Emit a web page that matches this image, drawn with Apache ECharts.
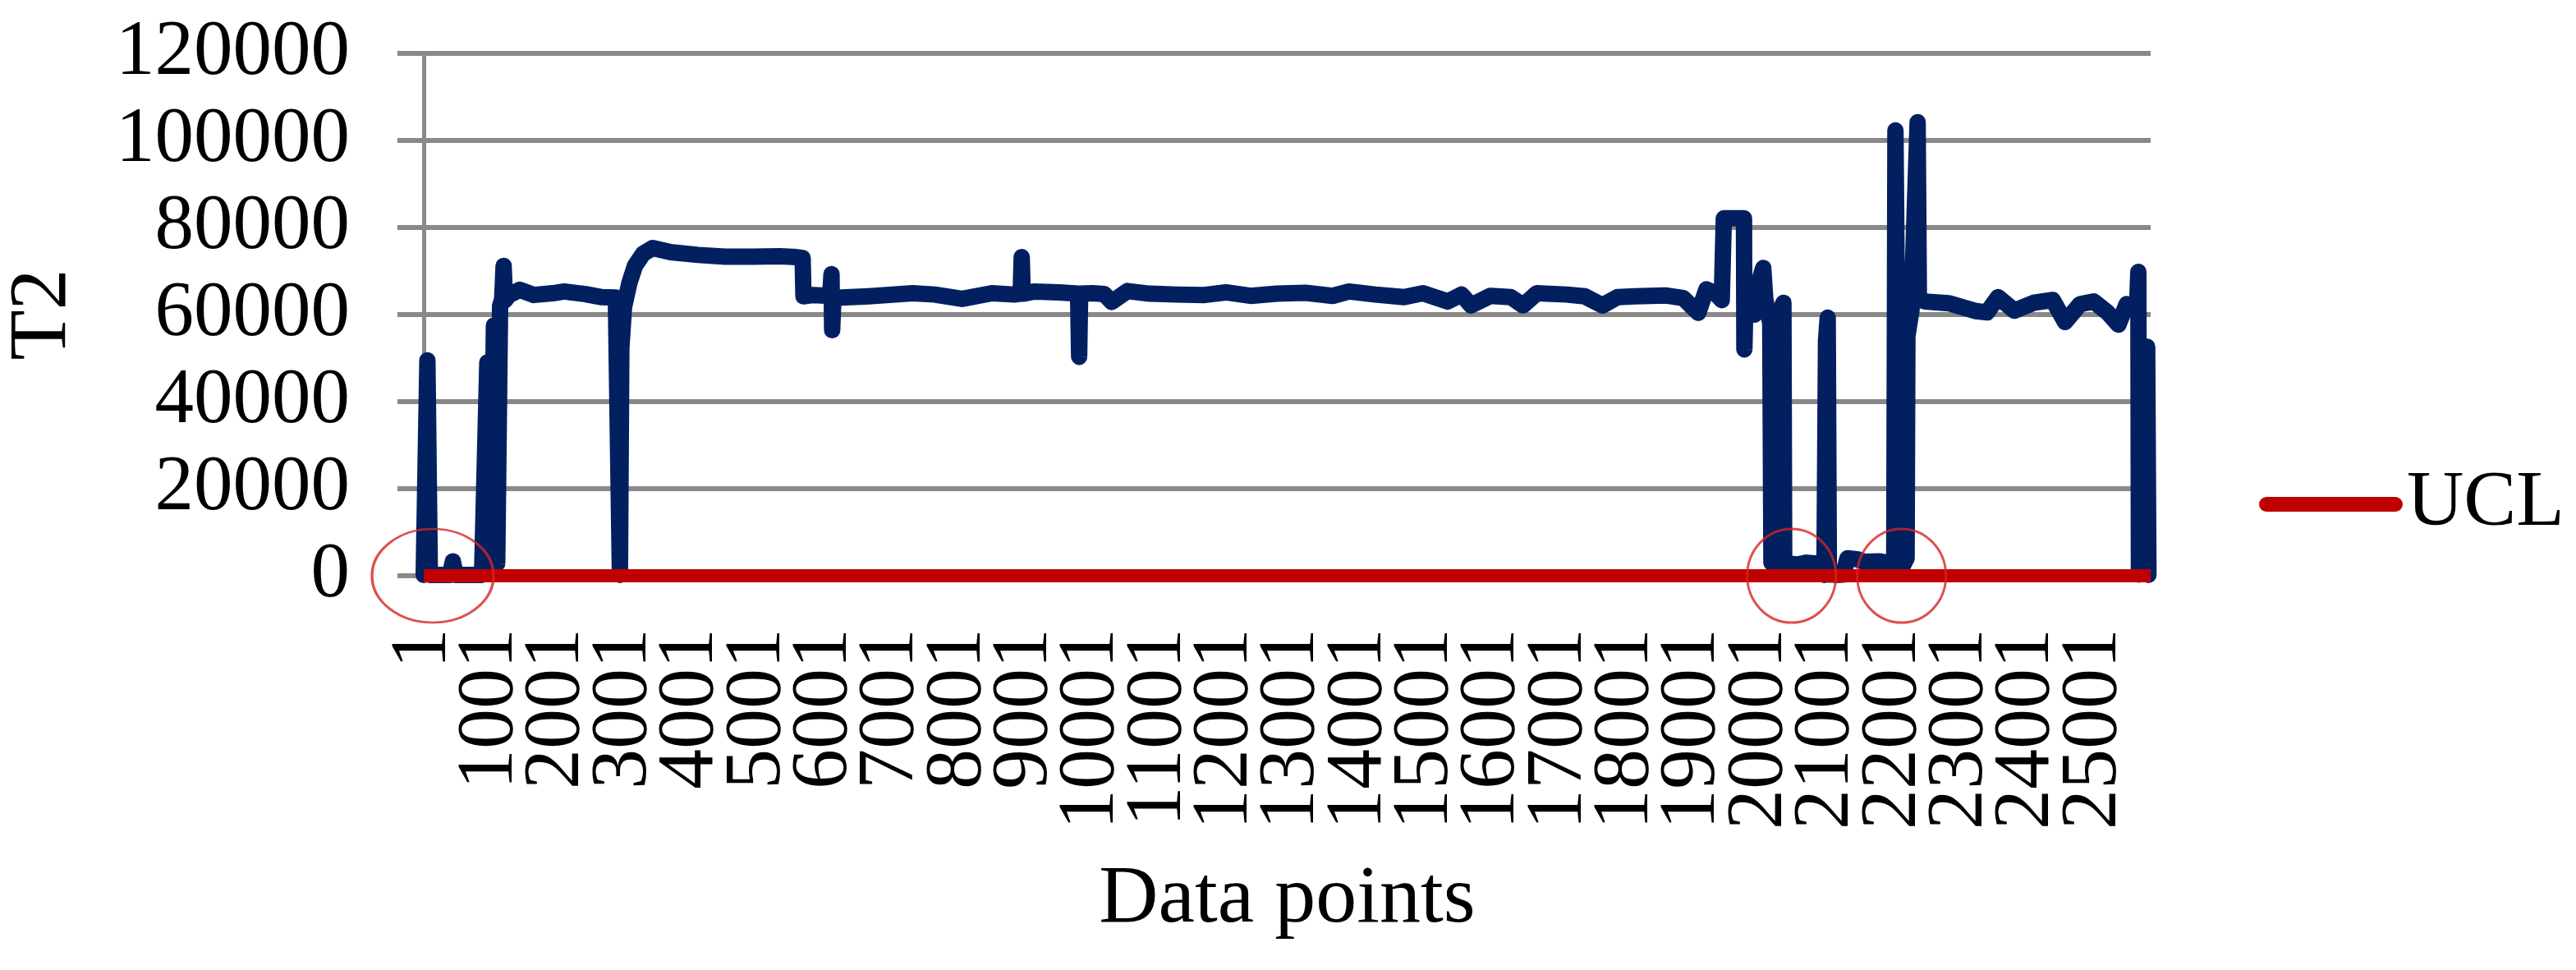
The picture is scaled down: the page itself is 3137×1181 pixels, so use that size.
<!DOCTYPE html>
<html>
<head>
<meta charset="utf-8">
<script src="https://cdn.jsdelivr.net/npm/echarts@6/dist/echarts.min.js"></script>
<style>
html,body{margin:0;padding:0;background:#ffffff;}
#chart{width:3137px;height:1181px;}
</style>
</head>
<body>
<div id="chart"></div>
<script>
// ---------- DATA ----------
// Data point index (0-based; axis labels show index + 1)
const dataIndex = [
  0, 55, 92, 393, 436, 479, 873, 952, 1002, 1051, 1100, 1143, 1174, 1196, 1217, 1278,
  1438, 1647, 1930, 2102, 2421, 2667, 2876,
  2937, 2958, 2999, 3081, 3162, 3285, 3429,
  3696, 4105, 4510, 4928, 5334, 5580, 5672, 5684,
  5825, 6084, 6104, 6114, 6133, 6256, 6661, 7321, 7648, 8059, 8505, 8837, 8936, 8951, 8966,
  9144, 9513, 9795, 9811, 9826, 10004, 10188, 10299, 10533, 10865, 11270, 11688, 12007,
  12376, 12769, 13199, 13605, 13851, 14245, 14674, 14957, 15326, 15535, 15678, 15965,
  16272, 16457, 16662, 17108, 17378, 17645, 17870, 18136, 18582, 18853, 19078, 19201, 19344,
  19430, 19461, 19763, 19769, 19787, 19885, 19922, 19947, 20051, 20082,
  20156, 20174, 20242, 20353, 20365,
  20401, 20573, 20696, 20868, 20893, 20967, 20991, 21016, 21034, 21090, 21127,
  21249, 21311, 21458, 21557, 21802, 21901,
  22012, 22030, 22086, 22123, 22147, 22197, 22209, 22270, 22362, 22381, 22479,
  22827, 23238, 23401, 23565, 23811, 24098, 24384, 24569, 24794, 24999, 25204, 25368, 25491,
  25552, 25650, 25666, 25675, 25798, 25817
];
// T2 statistic at those points
const t2Values = [
  200, 49500, 200, 200, 3300, 200, 200, 49000, 600, 57500, 2800, 62000, 63500, 71200, 63300, 64500,
  65700, 64500, 64900, 65300, 64700, 64000, 63900,
  200, 52300, 61800, 67400, 71200, 74000, 75300,
  74350, 73700, 73300, 73300, 73400, 73200, 73000, 64200,
  64500, 64300, 69300, 56400, 64000, 63900, 64200, 64900, 64600, 63600, 64900, 64600, 64800, 73200, 64800,
  65300, 65100, 64800, 50300, 64800, 64900, 64700, 62900, 65400, 64800, 64600, 64500, 65100,
  64300, 64800, 65000, 64300, 65300, 64600, 64000, 64900, 63000, 64600, 62100, 64300,
  64000, 62100, 64900, 64600, 64200, 62100, 64000, 64200, 64400, 63800, 60400, 65800, 64800,
  63300, 82100, 82100, 52000, 65000, 64000, 60000, 65500, 70700, 63500,
  58000, 3000, 58000, 62700, 1500,
  2800, 2600, 3000, 2800, 1500, 200, 54000, 59300, 300, 300, 200,
  300, 4000, 3800, 3200, 3300, 3000,
  1500, 102300, 2000, 50000, 2500, 4000, 55000, 61000, 104200, 63500, 63000,
  62600, 60800, 60500, 64000, 60900, 62700, 63350, 58300, 62400, 63000, 60500, 57700, 62400,
  62000, 63000, 69800, 300, 52600, 200
];
const uclLevel = 0;                 // UCL value (flat, at the bottom of the scale)
const lastIndex = 25850;            // number of data points
const circledIndex = [135, 20475, 22122]; // points highlighted by red ellipses
const yMax = 120000, yStep = 20000; // y tick labels 0..120000
const xStep = 1000;                 // x tick labels 1, 1001, 2001, ...

// ---------- STYLE ----------
const FONT = '"Liberation Serif", "Times New Roman", serif';
const GRID_COLOR = '#898989';
const BLUE = '#022060';
const RED = '#C00000';
const circleSizes = [[148, 114], [108, 114], [108, 114]];

const xLabelStyle = {
  rotate: 90, margin: 64, hideOverlap: false,
  fontFamily: FONT, fontSize: 98, lineHeight: 60, color: '#000000'
};

const chart = echarts.init(document.getElementById('chart'), null, { renderer: 'canvas' });

const option = {
  animation: false,
  backgroundColor: '#ffffff',
  grid: {
    left: 516, top: 65, width: 2103, height: 636,
    containLabel: false, outerBoundsMode: 'none'
  },
  legend: {
    show: true,
    data: [{ name: 'UCL', icon: 'path://M9 0H166A9 9 0 0 1 166 18H9A9 9 0 0 1 9 0Z' }],
    left: 2746, top: 559,
    itemWidth: 175, itemHeight: 18,
    selectedMode: false,
    itemStyle: { borderWidth: 0 },
    textStyle: { fontFamily: FONT, fontSize: 96, color: '#000000', lineHeight: 100 }
  },
  xAxis: [
    {
      type: 'value', position: 'bottom',
      min: 0, max: lastIndex, interval: xStep,
      name: 'Data points',
      nameLocation: 'middle',
      nameGap: 345,
      nameMoveOverlap: false,
      nameTextStyle: { fontFamily: FONT, fontSize: 100, color: '#000000', lineHeight: 100 },
      axisLine: { show: true, lineStyle: { color: GRID_COLOR, width: 5 } },
      axisTick: { show: false },
      splitLine: { show: false },
      axisLabel: Object.assign({}, xLabelStyle, {
        showMinLabel: false, showMaxLabel: false,
        formatter: v => String(v + 1)
      })
    },
    {
      // companion axis that only carries the first label ("1")
      type: 'value', position: 'bottom',
      min: 0, max: lastIndex, interval: xStep,
      axisLine: { show: false },
      axisTick: { show: false },
      splitLine: { show: false },
      axisLabel: Object.assign({}, xLabelStyle, {
        showMinLabel: true, showMaxLabel: false,
        formatter: v => (v === 0 ? String(v + 1) : '')
      })
    }
  ],
  yAxis: {
    type: 'value',
    min: 0, max: yMax, interval: yStep,
    name: 'T2',
    nameLocation: 'middle',
    nameGap: 413,
    nameRotate: 90,
    nameMoveOverlap: false,
    nameTextStyle: { fontFamily: FONT, fontSize: 100, color: '#000000', lineHeight: 100 },
    axisLine: { show: true, lineStyle: { color: GRID_COLOR, width: 5 } },
    axisTick: { show: true, inside: false, length: 32, lineStyle: { color: GRID_COLOR, width: 6 } },
    splitLine: { show: true, lineStyle: { color: GRID_COLOR, width: 6 } },
    axisLabel: {
      margin: 90, hideOverlap: false,
      formatter: v => String(v),
      fontFamily: FONT, fontSize: 95, color: '#000000'
    }
  },
  series: [
    {
      name: 'T2',
      type: 'line',
      xAxisIndex: 0,
      data: dataIndex.map((x, i) => [x, t2Values[i]]),
      symbol: 'none', showSymbol: false,
      lineStyle: { color: BLUE, width: 20, cap: 'round', join: 'round' },
      itemStyle: { color: BLUE },
      silent: true,
      z: 2
    },
    {
      name: 'UCL',
      type: 'line',
      xAxisIndex: 0,
      data: [[0, uclLevel], [lastIndex, uclLevel]],
      symbol: 'none', showSymbol: false,
      lineStyle: { color: RED, width: 16, cap: 'butt' },
      itemStyle: { color: RED },
      silent: true,
      z: 3
    },
    {
      name: 'circled',
      type: 'scatter',
      xAxisIndex: 0,
      data: circledIndex.map(x => [x, uclLevel]),
      symbol: 'circle',
      symbolSize: (val, params) => circleSizes[params.dataIndex],
      itemStyle: { color: 'rgba(0,0,0,0)', borderColor: '#d42424', borderWidth: 3 },
      clip: false,
      silent: true,
      z: 5
    }
  ]
};
chart.setOption(option);
</script>
</body>
</html>
